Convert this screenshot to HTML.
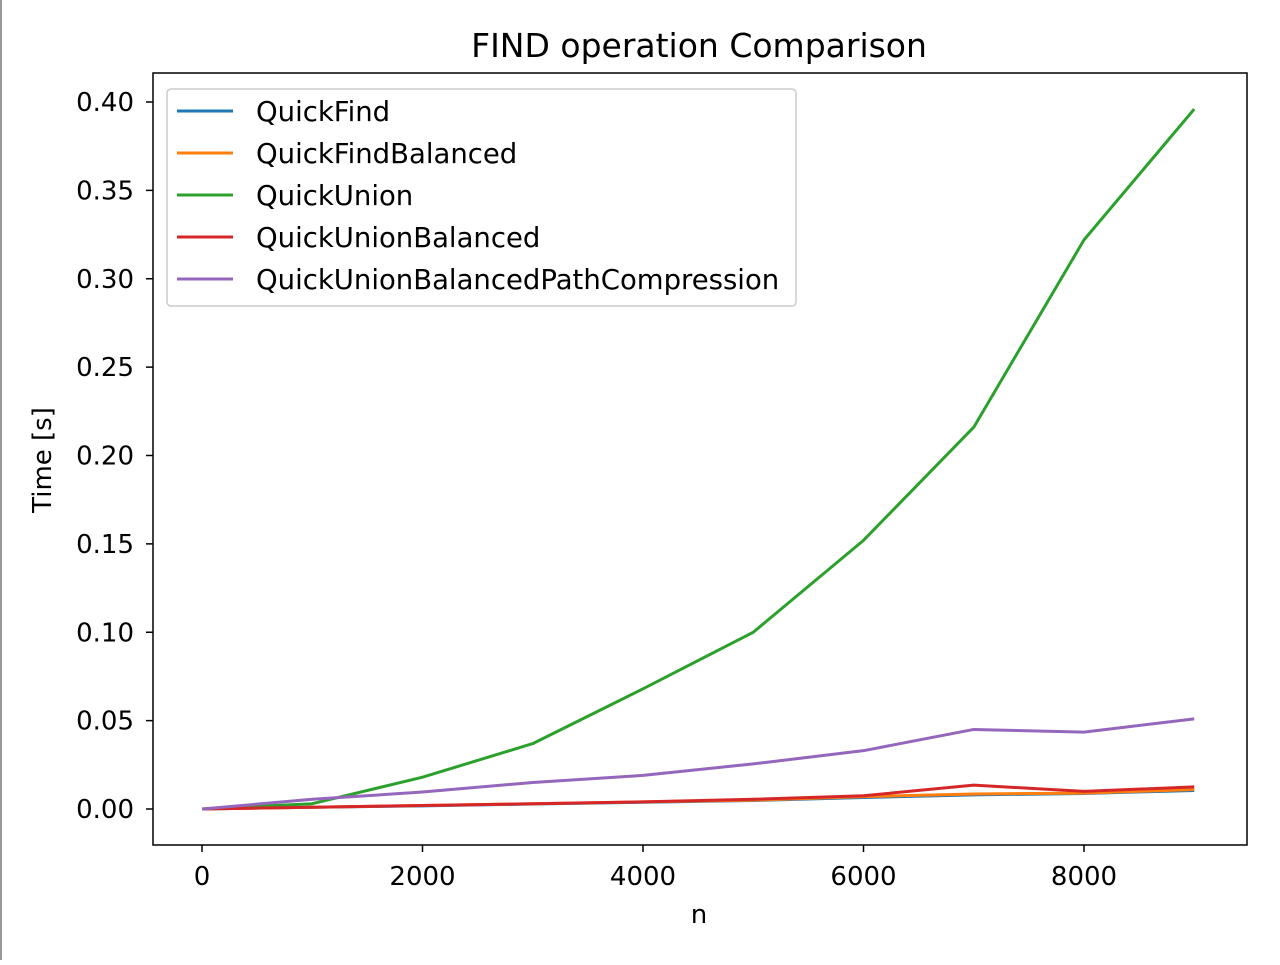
<!DOCTYPE html>
<html><head><meta charset="utf-8"><style>
body{margin:0;background:#fff;}
svg{font-family:"DejaVu Sans","Liberation Sans",sans-serif;}
</style></head><body>
<svg id="chart" width="1280" height="960">
<rect x="0" y="0" width="1280" height="960" fill="#fff"/>
<line x1="1" y1="0" x2="1" y2="960" stroke="#999" stroke-width="2"/>
<text x="699" y="57" font-size="33" text-anchor="middle" fill="#000">FIND operation Comparison</text>
<text x="699" y="923" font-size="26" text-anchor="middle">n</text>
<text transform="translate(51,460) rotate(-90)" font-size="26" text-anchor="middle">Time [s]</text>
<g id="ticks"></g>
<g id="series"></g>
<rect x="153" y="73" width="1094" height="772" fill="none" stroke="#000" stroke-width="1.5"/>
<g id="legend"></g>
</svg>
<script>
const ns="http://www.w3.org/2000/svg";
const xs=[0,1000,2000,3000,4000,5000,6000,7000,8000,9000];
const quickFind=[0,0.001,0.0018,0.0028,0.0038,0.0048,0.0065,0.008,0.0088,0.0105];
const quickFindBalanced=[0,0.001,0.002,0.003,0.004,0.005,0.007,0.0085,0.009,0.011];
const quickUnion=[0,0.003,0.018,0.037,0.068,0.100,0.152,0.216,0.322,0.396];
const quickUnionBalanced=[0,0.001,0.002,0.003,0.004,0.0055,0.0075,0.0135,0.010,0.0125];
const quickUnionBalancedPC=[0,0.0055,0.0096,0.015,0.019,0.0255,0.033,0.045,0.0435,0.051];
const xTicks=[0,2000,4000,6000,8000];
const yTicks=[0,0.05,0.10,0.15,0.20,0.25,0.30,0.35,0.40];
const seriesNames=["QuickFind","QuickFindBalanced","QuickUnion","QuickUnionBalanced","QuickUnionBalancedPathCompression"];
const seriesVals=[quickFind,quickFindBalanced,quickUnion,quickUnionBalanced,quickUnionBalancedPC];
const colors=["#1f77b4","#ff7f0e","#2ca02c","#d62728","#9467bd"];
const X=v=>202+v*(1084-202)/8000;
const Y=v=>809-v*(809-102)/0.40;
function el(t,a){const e=document.createElementNS(ns,t);for(const k in a)e.setAttribute(k,a[k]);return e;}
const tg=document.getElementById('ticks');
xTicks.forEach(t=>{
  const l=el('line',{x1:X(t),x2:X(t),y1:845,y2:852,stroke:'#000','stroke-width':1.5});
  
  
  tg.appendChild(l);
  const tx=el('text',{x:X(t),y:885,'font-size':26,'text-anchor':'middle'});
  
  
  tx.textContent=String(t);tg.appendChild(tx);
});
yTicks.forEach(t=>{
  const l=el('line',{x1:146,x2:153,y1:Y(t),y2:Y(t),stroke:'#000','stroke-width':1.5});
  
  
  tg.appendChild(l);
  const tx=el('text',{x:134,y:Y(t)+9,'font-size':26,'text-anchor':'end'});
  
  
  tx.textContent=t.toFixed(2);tg.appendChild(tx);
});
const sg=document.getElementById('series');
seriesVals.forEach((vals,i)=>{
  const p=el('polyline',{points:vals.map((v,j)=>X(xs[j])+','+Y(v)).join(' '),fill:'none',stroke:colors[i],'stroke-width':3,'stroke-linejoin':'round'});
  
  
  sg.appendChild(p);
});
const lg=document.getElementById('legend');
lg.appendChild(el('rect',{x:167,y:89,width:629,height:217,rx:4,fill:'#fff','fill-opacity':0.8,stroke:'#ccc','stroke-width':1.5}));
seriesNames.forEach((n,i)=>{
  const y=111+i*42;
  const l=el('line',{x1:177,x2:233,y1:y,y2:y,stroke:colors[i],'stroke-width':3});
  
  
  lg.appendChild(l);
  const t=el('text',{x:256,y:y+10,'font-size':27.5});
  
  
  t.textContent=n;lg.appendChild(t);
});
</script>
</body></html>
